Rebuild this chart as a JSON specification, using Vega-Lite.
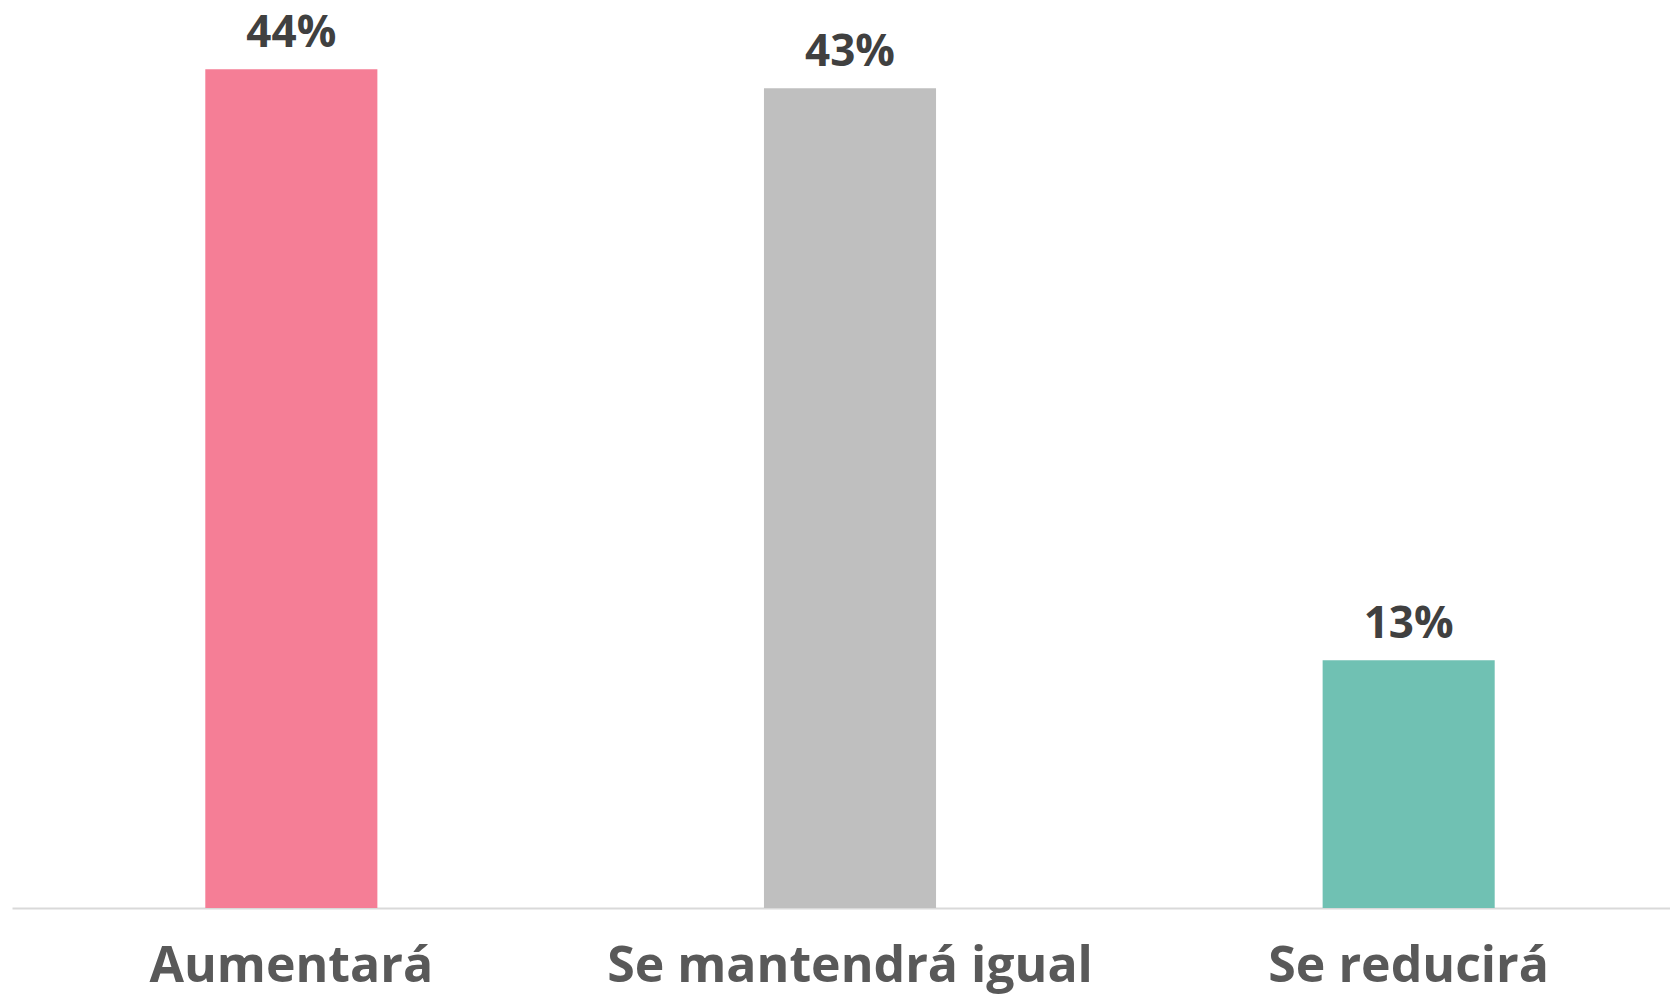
{
  "$schema": "https://vega.github.io/schema/vega-lite/v6.json",
  "autosize": {"type": "none"},
  "width": 1676,
  "height": 896,
  "padding": {"left": 12, "top": 12, "right": 0, "bottom": 89},
  "background": "white",
  "config": {"view": {"stroke": null}},
  "data": {"values": [
    {"cat": "Aumentará", "pct": 44, "label": "44%"},
    {"cat": "Se mantendrá igual", "pct": 43, "label": "43%"},
    {"cat": "Se reducirá", "pct": 13, "label": "13%"}
  ]},
  "encoding": {
    "x": {"field": "cat", "type": "nominal", "sort": null,
      "scale": {"paddingInner": 0.692, "paddingOuter": 0.346},
      "axis": {"title": null, "ticks": false, "labelAngle": 0, "labelLimit": 0, "labelFont": "Open Sans", "labelFontWeight": "bold", "labelFontSize": 50, "labelColor": "#595959", "labelPadding": 33, "domainColor": "#d9d9d9", "domainWidth": 2}},
    "y": {"field": "pct", "type": "quantitative", "scale": {"domain": [0, 47]}, "axis": null}
  },
  "layer": [
    {"mark": {"type": "bar"},
     "encoding": {"color": {"field": "cat", "type": "nominal", "sort": null, "legend": null,
       "scale": {"range": ["#F57E96", "#BFBFBF", "#70C1B3"]}}}},
    {"mark": {"type": "text", "font": "Open Sans", "fontWeight": "bold", "fontSize": 44, "color": "#404040", "baseline": "alphabetic", "dy": -22},
     "encoding": {"text": {"field": "label"}}}
  ]
}
